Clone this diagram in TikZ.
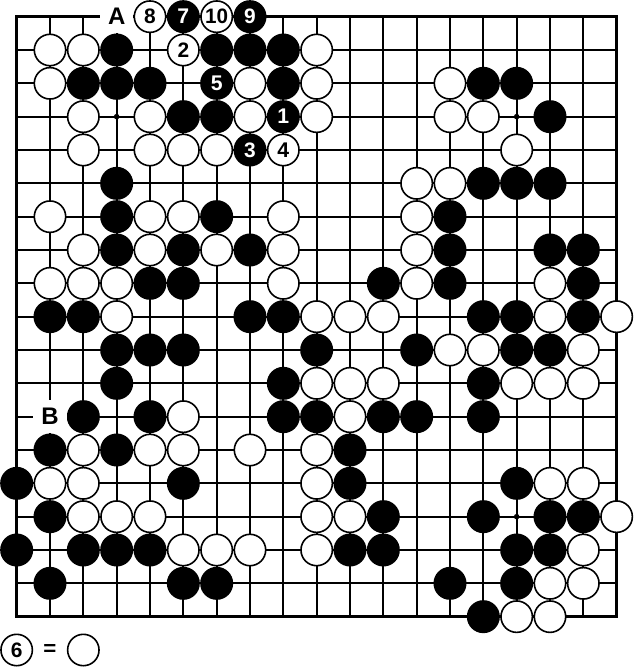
\documentclass[tikz,border=0pt]{standalone}
\usepackage{fontspec}
\setmainfont{Liberation Sans}
\newcommand{\stnum}[1]{\resizebox{!}{14.6pt}{\bfseries #1}}
\newcommand{\stlab}[1]{\resizebox{!}{16.5pt}{\bfseries #1}}
\begin{document}
\begin{tikzpicture}[x=33.3333pt,y=-33.3333pt,
  stonebase/.style={circle,draw=black,line width=1.6pt,minimum size=31.4pt,inner sep=0pt},
  wst/.style={stonebase,fill=white,text=black},
  bst/.style={stonebase,fill=black,text=white},
  lab/.style={fill=white,minimum size=33pt,inner sep=0pt},
  gridline/.style={line width=1.7pt},
  borderline/.style={line width=3.2pt,line join=miter}]
\useasboundingbox (-0.5,-0.5) rectangle (18.7,19.54);
% grid
\foreach \i in {1,...,17} {
  \draw[gridline] (\i,0) -- (\i,18);
  \draw[gridline] (0,\i) -- (18,\i);
}
\draw[borderline] (0,0) rectangle (18,18);
% star points
\foreach \a in {3,9,15} \foreach \b in {3,9,15} \fill (\a,\b) circle (2.8pt);
% black stones
\foreach \r/\cs in {1/{3,6,7,8}, 2/{2,3,4,8,14,15}, 3/{5,6,16}, 5/{3,14,15,16},
  6/{3,6,13}, 7/{3,5,7,13,16,17}, 8/{4,5,11,13,17}, 9/{1,2,7,8,14,15,17},
  10/{3,4,5,9,12,15,16}, 11/{3,8,14}, 12/{2,4,8,9,11,12,14}, 13/{1,3,10},
  14/{0,5,10,15}, 15/{1,11,14,16,17}, 16/{0,2,3,4,10,11,15,16},
  17/{1,5,6,13,15}, 18/{14}}
  \foreach \c in \cs \node[bst] (b-\c-\r) at (\c,\r) {};
% white stones
\foreach \r/\cs in {1/{1,2,9}, 2/{1,7,9,13}, 3/{2,4,7,9,13,14}, 4/{2,4,5,6,15},
  5/{12,13}, 6/{1,4,5,8,12}, 7/{2,4,6,8,12}, 8/{1,2,3,8,12,16},
  9/{3,9,10,11,16,18}, 10/{13,14,17}, 11/{9,10,11,15,16,17}, 12/{5,10},
  13/{2,4,5,7,9}, 14/{1,2,9,16,17}, 15/{2,3,4,9,10,18}, 16/{5,6,7,9,17},
  17/{16,17}, 18/{15,16}}
  \foreach \c in \cs \node[wst] (w-\c-\r) at (\c,\r) {};
% numbered moves
\node[bst] (m1) at (8,3) {\stnum{1}};
\node[wst] (m2) at (5,1) {\stnum{2}};
\node[bst] (m3) at (7,4) {\stnum{3}};
\node[wst] (m4) at (8,4) {\stnum{4}};
\node[bst] (m5) at (6,2) {\stnum{5}};
\node[bst] (m7) at (5,0) {\stnum{7}};
\node[wst] (m8) at (4,0) {\stnum{8}};
\node[bst] (m9) at (7,0) {\stnum{9}};
\node[wst] (m10) at (6,0) {\resizebox{23pt}{14.6pt}{\bfseries 10}};
% letter labels
\node[lab] (labA) at (3,0) {\stlab{A}};
\node[lab] (labB) at (1,12) {\stlab{B}};
% legend
\node[wst] (leg6) at (0,19) {\stnum{6}};
\node (legeq) at (1,19) {\resizebox{13pt}{11pt}{\bfseries =}};
\node[wst] (legw) at (2,19) {};
\end{tikzpicture}
\end{document}
